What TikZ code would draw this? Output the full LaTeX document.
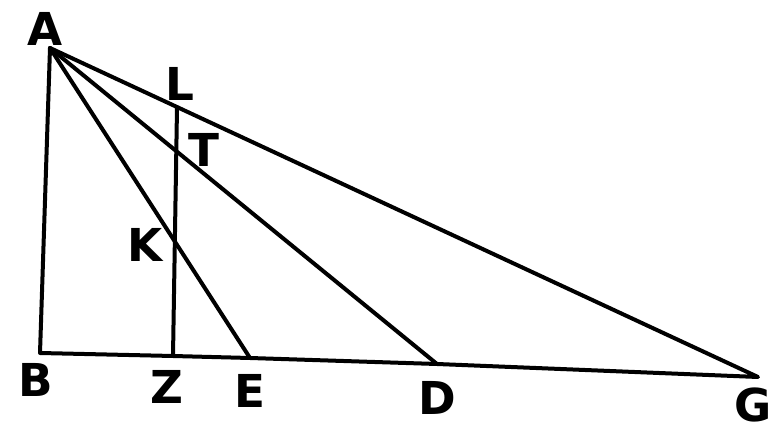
\documentclass[tikz,border=0pt]{standalone}
\usepackage{fontspec}
\setmainfont{DejaVu Sans}
\usetikzlibrary{calc}
\begin{document}
\begin{tikzpicture}[x=0.75pt,y=-0.75pt,
  seg/.style={line width=3pt,line cap=round,line join=round},
  lbl/.style={font=\fontsize{34}{34}\selectfont\bfseries,inner sep=0pt}]
\useasboundingbox (0,0) rectangle (775,441);
\coordinate (A) at (50,48);
\coordinate (B) at (40,353);
\coordinate (Z) at (173,356);
\coordinate (E) at (250,358);
\coordinate (D) at (437,364);
\coordinate (G) at (758,377);
\coordinate (L) at ($(A)!0.1794!(G)$);
\draw[seg] (A) -- (B) -- (Z) -- (E) -- (D) -- (G) -- cycle;
\draw[seg] (A) -- (E);
\draw[seg] (A) -- (D);
\draw[seg] (L) -- (Z);
\node[lbl] (lA) at (45,29) {A};
\node[lbl] (lL) at (180,84) {L};
\node[lbl] (lT) at (204,150) {T};
\node[lbl] (lK) at (145,245) {K};
\node[lbl] (lB) at (36,380) {B};
\node[lbl] (lZ) at (167,387) {Z};
\node[lbl] (lE) at (250,391) {E};
\node[lbl] (lD) at (437,398) {D};
\node[lbl] (lG) at (753,405) {G};
\end{tikzpicture}
\end{document}
